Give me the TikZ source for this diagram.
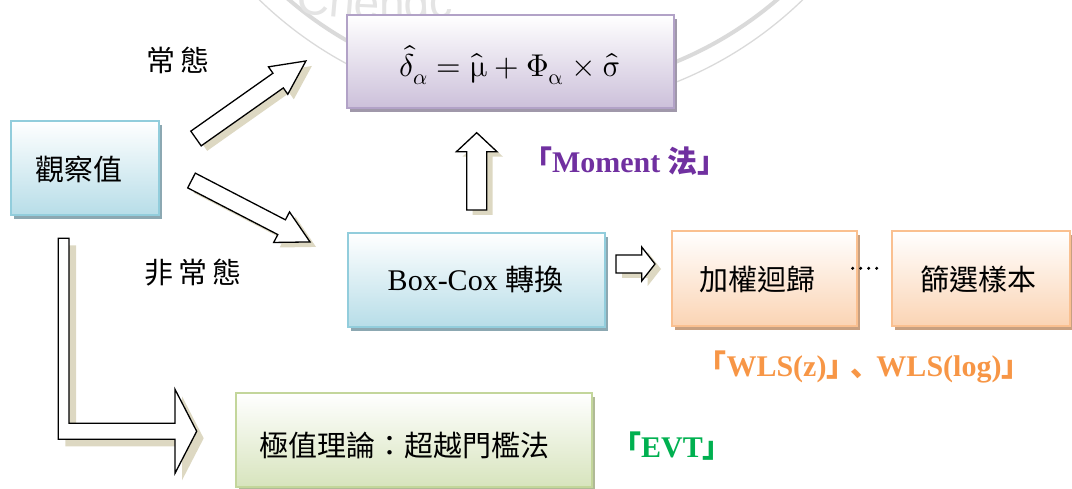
\documentclass[tikz,border=0pt]{standalone}
\usepackage{unicode-math}
\setmainfont{Liberation Serif}
\newfontfamily\cjk{Noto Sans CJK TC}
\newfontfamily\cjkp{Noto Sans CJK JP}
\newfontfamily\wmfont{Liberation Sans}
\usetikzlibrary{shadows,decorations.text}
\definecolor{wmgray}{RGB}{218,218,218}
\definecolor{wmtext}{RGB}{228,228,228}
\definecolor{bluedraw}{RGB}{146,205,220}
\definecolor{bluefill}{RGB}{183,221,232}
\definecolor{blueshadow}{RGB}{140,168,178}
\definecolor{purpledraw}{RGB}{178,162,199}
\definecolor{purplefill}{RGB}{204,192,218}
\definecolor{purpleshadow}{RGB}{160,152,170}
\definecolor{orangedraw}{RGB}{250,192,144}
\definecolor{orangefill}{RGB}{251,212,180}
\definecolor{orangeshadow}{RGB}{200,160,128}
\definecolor{greendraw}{RGB}{195,214,155}
\definecolor{greenfill}{RGB}{215,228,189}
\definecolor{greenshadow}{RGB}{176,186,150}
\definecolor{arrowshadowc}{RGB}{221,216,194}
\definecolor{labpurple}{RGB}{112,48,160}
\definecolor{laborange}{RGB}{247,150,70}
\definecolor{labgreen}{RGB}{0,176,80}
\tikzset{
  gbox/.style n args={3}{draw=#1, line width=2pt, top color=white, bottom color=#2,
    inner sep=0pt, drop shadow={shadow xshift=3pt, shadow yshift=-4pt, fill=#3, opacity=1}},
  cjktxt/.style={font=\cjk\fontsize{29}{32}\selectfont, inner sep=0pt},
  lattxt/.style={font=\fontsize{30}{34}\selectfont, inner sep=0pt},
  labtxt/.style={font=\bfseries\fontsize{30}{34}\selectfont, inner sep=0pt},
  arrowbody/.style={fill=white, draw=black, line width=1.3pt, line join=miter},
  arrowshade/.style={fill=arrowshadowc},
  wm/.style={draw=wmgray}
}
\newcommand\barrowpath{(0,-\sw) -- (\L-\hl,-\sw) -- (\L-\hl,-\hw) -- (\L,0) -- (\L-\hl,\hw) -- (\L-\hl,\sw) -- (0,\sw) -- cycle}
% #1 name, #2 x, #3 y (tail middle), #4 angle, #5 length, #6 shaft half, #7 head half, #8 head length
\newcommand\blockarrow[8]{%
  \def\L{#5}\def\sw{#6}\def\hw{#7}\def\hl{#8}%
  \coordinate (#1-tail) at (#2,#3);
  \begin{scope}[shift={(#2+6,#3+5)},rotate=#4] \fill[arrowshade] \barrowpath; \end{scope}
  \begin{scope}[shift={(#2,#3)},rotate=#4] \draw[arrowbody] \barrowpath; \coordinate (#1-tip) at (\L,0); \end{scope}}
\begin{document}
\begin{tikzpicture}[x=1pt,y=-1pt]
\useasboundingbox (0,0) rectangle (1072,489);
\clip (0,0) rectangle (1072,489);
% watermark
\draw[wm, line width=4pt] (533,-285) circle[radius=375];
\draw[wm, line width=1.3pt] (531,-280) circle[radius=390];
\path[decorate, decoration={text along path, text align=center,
  text={|\wmfont\fontsize{46}{46}\selectfont\color{wmtext}|Chengchi}}]
  (392,-578) ++(97:598) arc[start angle=97, end angle=83, radius=598];
% boxes
\node[gbox={bluedraw}{bluefill}{blueshadow}, minimum width=148pt, minimum height=94pt] (obs) at (85,168) {};
\node[gbox={purpledraw}{purplefill}{purpleshadow}, minimum width=327pt, minimum height=93pt] (formula) at (510.5,61.5) {};
\node[gbox={bluedraw}{bluefill}{blueshadow}, minimum width=257pt, minimum height=94pt] (boxcox) at (476.5,280) {};
\node[gbox={orangedraw}{orangefill}{orangeshadow}, minimum width=185pt, minimum height=95pt] (wls) at (764.5,278.5) {};
\node[gbox={orangedraw}{orangefill}{orangeshadow}, minimum width=178pt, minimum height=95pt] (screen) at (981,278.5) {};
\node[gbox={greendraw}{greenfill}{greenshadow}, minimum width=356pt, minimum height=94pt] (evtbox) at (414,440) {};
% texts in boxes
\node[cjktxt] (obsT) at (79,169) {觀察值};
\node[inner sep=0pt, anchor=base, font=\fontsize{31.5}{34}\selectfont] (formulaT) at (510.5,77)
  {$\hat{\delta}_{\alpha} = \hat{\symup{\mu}} + \symup{\Phi}_{\symup{\alpha}} \times \widehat{\symup{\sigma}}$};
\node[lattxt, anchor=base] (boxcoxT) at (475.5,291) {Box-Cox {\cjk\fontsize{29}{32}\selectfont 轉換}};
\node[cjktxt] (wlsT) at (757,279) {加權迴歸};
\node[cjktxt] (screenT) at (978,279) {篩選樣本};
\node[cjktxt] (evtT) at (404,445) {極值理論：超越門檻法};
% side labels
\node[cjktxt] (normal) at (178,60) {常\hspace{5pt}態};
\node[cjktxt] (nonnormal) at (193,273) {非\hspace{5pt}常\hspace{5pt}態};
\node[labtxt, text=labpurple, anchor=base] (momentL) at (625,173) {{\cjkp 「}Moment {\cjk 法}{\cjkp 」}};
\node[labtxt, text=laborange, anchor=base] (wlsL) at (864,377) {{\cjkp 「}WLS(z){\cjkp 」\kern-6pt、\kern-4pt}WLS(log){\cjkp 」}};
\node[labtxt, text=labgreen, anchor=base] (evtL) at (672,457) {{\cjkp 「}EVT{\cjkp 」}};
% dots between boxes
\foreach \dx in {852.7,860.7,868.7,876.7} \fill (\dx,268.3) circle[radius=1.7];
% block arrows
\blockarrow{toNormal}{196}{138.5}{35.2}{134.5}{9}{16.8}{34}
\blockarrow{toBoxcox}{191.5}{180.5}{-27.4}{133.5}{8.3}{17.2}{32}
\blockarrow{toFormula}{476.7}{210}{90}{77.3}{10}{20.3}{19}
\blockarrow{toWls}{616}{264}{0}{39}{9}{17}{13.3}
% L-shaped arrow
\fill[arrowshade, shift={(7,7)}] (58.3,238.3) -- (69,238.3) -- (69,423.3) -- (175,423.3) -- (175,389.3) -- (196.7,431.3) -- (175,473.3) -- (175,439.3) -- (58.3,439.3) -- cycle;
\draw[arrowbody] (58.3,238.3) coordinate (toEvt-tail) -- (69,238.3) -- (69,423.3) -- (175,423.3) -- (175,389.3) -- (196.7,431.3) coordinate (toEvt-tip) -- (175,473.3) -- (175,439.3) -- (58.3,439.3) -- cycle;
\end{tikzpicture}
\end{document}
